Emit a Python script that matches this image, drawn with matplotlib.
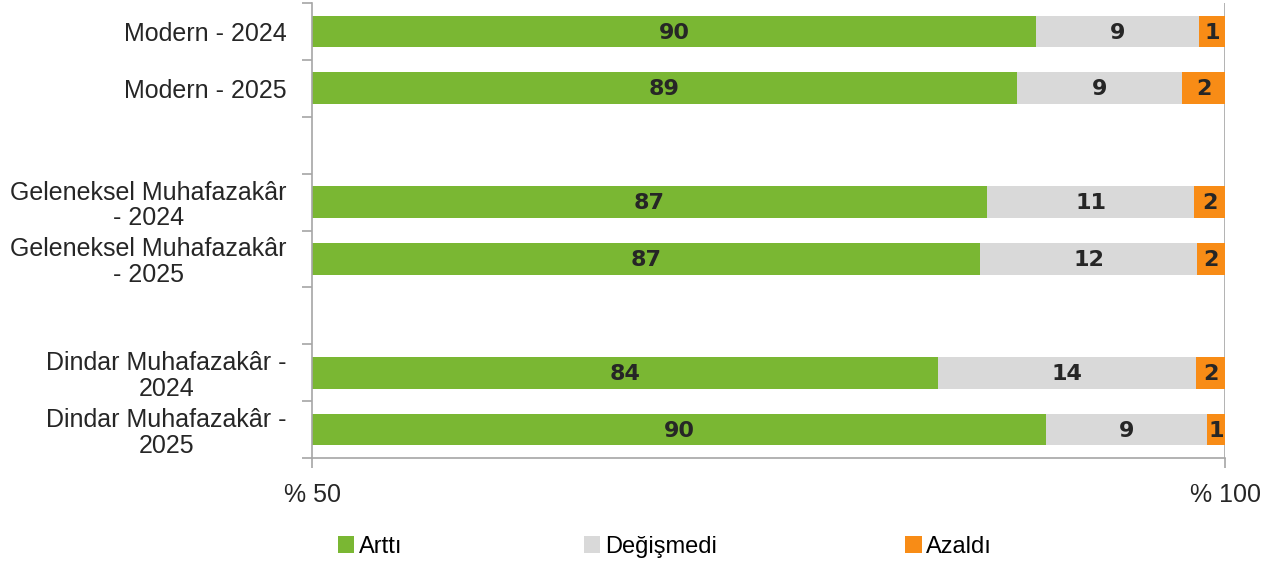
import matplotlib
matplotlib.use("Agg")
import matplotlib.pyplot as plt
import numpy as np

categories = ["Modern - 2024", "Modern - 2025",
              "Geleneksel Muhafazakâr\n- 2024", "Geleneksel Muhafazakâr\n- 2025",
              "Dindar Muhafazakâr -\n2024", "Dindar Muhafazakâr -\n2025"]
slots = [0, 1, 3, 4, 6, 7]
arttı = [89.65, 88.6, 86.97, 86.58, 84.28, 90.2]
degismedi = [8.92, 9.04, 11.33, 11.89, 14.13, 8.81]
azaldi = [1.43, 2.36, 1.7, 1.53, 1.59, 0.99]
series_names = ["Arttı", "Değişmedi", "Azaldı"]
colors = ["#7ab733", "#d9d9d9", "#f88c16"]
xlim = (50, 100)

plt.rcParams['font.family'] = ['Liberation Sans', 'DejaVu Sans']

fig = plt.figure(figsize=(12.81, 5.64), dpi=100)
ax = fig.add_axes([312/1281, 1-458/564, (1225-312)/1281, (458-3)/564])

vals = [np.array(arttı), np.array(degismedi), np.array(azaldi)]
left = np.zeros(len(slots))
handles = []
for v, name, c in zip(vals, series_names, colors):
    h = ax.barh(slots, v, left=left, height=0.56, color=c, label=name, zorder=2)
    handles.append(h)
    for y, l, w in zip(slots, left, v):
        a = max(l, xlim[0]); b = min(l + w, xlim[1])
        ax.text((a + b) / 2, y + 0.02, f"{round(w):d}", ha='center', va='center',
                fontsize=16, fontweight='heavy', color='#262626',
                family=['DejaVu Sans'], zorder=3)
    left = left + v

ax.set_xlim(*xlim)
ax.set_ylim(7.5, -0.5)
ax.set_yticks(slots)
ax.set_yticklabels(categories, fontsize=18, color='#262626', ha='right',
                   multialignment='center', linespacing=1.1)
ax.set_yticks(np.arange(-0.5, 8.0, 1.0), minor=True)
ax.tick_params(axis='y', which='major', length=0, pad=18)
ax.tick_params(axis='y', which='minor', length=7, color='#a6a6a6', width=1.2)
ax.set_xticks([50, 100])
ax.set_xticklabels(["% 50", "% 100"], fontsize=18, color='#262626')
ax.tick_params(axis='x', length=7, color='#a6a6a6', width=1.2, pad=11)
ax.axvline(100, color='#a6a6a6', lw=1.2, zorder=1)
for s in ['top', 'right']:
    ax.spines[s].set_visible(False)
for s in ['left', 'bottom']:
    ax.spines[s].set_color('#a6a6a6')
    ax.spines[s].set_linewidth(1.2)

legend_x = [0.247, 0.439, 0.690]
for h, x in zip(handles, legend_x):
    fig.legend(handles=[h], loc='center left', bbox_to_anchor=(x, 1-547/564),
               frameon=False, handlelength=0.7, handleheight=0.7,
               handletextpad=0.2,
               prop={'family': ['Liberation Sans Narrow', 'Liberation Sans'], 'size': 17})

fig.savefig("out.png", dpi=100)
